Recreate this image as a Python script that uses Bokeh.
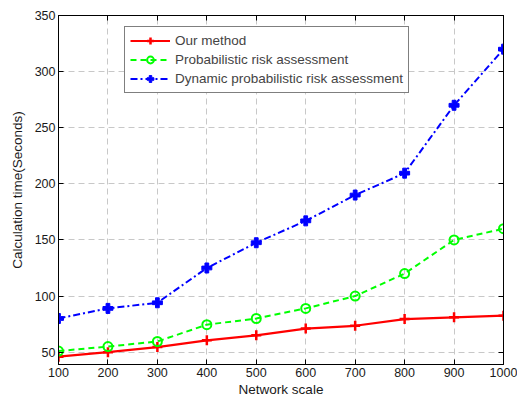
from bokeh.plotting import figure
from bokeh.models import LinearAxis, Range1d, Legend, LegendItem, FixedTicker
from bokeh.embed import file_html
from bokeh.resources import INLINE

network_scale = [100, 200, 300, 400, 500, 600, 700, 800, 900, 1000]
our_method = [46, 50, 54.5, 60.5, 65, 71, 73.5, 79.5, 81, 82.5]
probabilistic = [51, 55, 59.5, 74.5, 80, 89, 100, 120, 150, 160]
dynamic = [80, 89, 94, 125, 147.5, 167, 190, 209.5, 270, 320]
x_ticks = [100, 200, 300, 400, 500, 600, 700, 800, 900, 1000]
y_ticks = [50, 100, 150, 200, 250, 300, 350]

FONT = "Liberation Sans"

p = figure(width=517, height=399, output_backend="svg", toolbar_location=None,
           x_range=Range1d(100, 1000), y_range=Range1d(39, 350),
           min_border_left=58, min_border_right=14, min_border_top=15, min_border_bottom=33)

p.outline_line_color = "black"
p.outline_line_width = 1

for ax in [p.xaxis[0], p.yaxis[0]]:
    ax.major_tick_in = 5
    ax.major_tick_out = 0
    ax.minor_tick_in = 0
    ax.minor_tick_out = 0
    ax.major_label_text_font = FONT
    ax.major_label_text_font_size = "12.5px"
    ax.major_label_text_color = "#1a1a1a"
    ax.axis_label_text_font = FONT
    ax.axis_label_text_font_size = "13.5px"
    ax.axis_label_text_font_style = "normal"
    ax.axis_label_text_color = "#1a1a1a"
    ax.axis_line_color = "black"
    ax.major_tick_line_color = "black"
    ax.major_label_standoff = 3

p.xaxis[0].axis_label_standoff = 2
p.yaxis[0].axis_label_standoff = 7
p.xaxis[0].ticker = FixedTicker(ticks=x_ticks)
p.yaxis[0].ticker = FixedTicker(ticks=y_ticks)
p.xaxis[0].axis_label = "Network scale"
p.yaxis[0].axis_label = "Calculation time(Seconds)"

for loc in ["above", "right"]:
    ticks = x_ticks if loc == "above" else y_ticks
    ax = LinearAxis(ticker=FixedTicker(ticks=ticks))
    ax.major_label_overrides = {t: "" for t in ticks}
    ax.major_tick_in = 5
    ax.major_tick_out = 0
    ax.minor_tick_in = 0
    ax.minor_tick_out = 0
    ax.major_label_text_font_size = "1px"
    ax.major_label_standoff = 0
    ax.axis_line_color = "black"
    p.add_layout(ax, loc)

p.xgrid.ticker = FixedTicker(ticks=x_ticks)
p.ygrid.ticker = FixedTicker(ticks=y_ticks)
p.grid.grid_line_color = "#c8c8c8"
p.grid.grid_line_dash = "6 4"
p.grid.grid_line_width = 1

r1 = p.line(network_scale, our_method, line_color="#ff0000", line_width=2.2)
m1 = p.scatter(network_scale, our_method, marker="cross", size=10, line_color="#ff0000", line_width=2.5)
r2 = p.line(network_scale, probabilistic, line_color="#00ff00", line_width=2, line_dash="6 4")
m2 = p.scatter(network_scale, probabilistic, marker="circle", size=9, line_color="#00ff00",
               fill_color=None, line_width=2)
r3 = p.line(network_scale, dynamic, line_color="#0000ff", line_width=2, line_dash="7 3 2 3")
m3 = p.scatter(network_scale, dynamic, marker="plus", size=10, line_color="#0000ff",
               fill_color="#0000ff", line_width=1)

legend = Legend(items=[
    LegendItem(label="Our method", renderers=[r1, m1]),
    LegendItem(label="Probabilistic risk assessment", renderers=[r2, m2]),
    LegendItem(label="Dynamic probabilistic risk assessment", renderers=[r3, m3]),
], location=(66, 271))
legend.label_text_font = FONT
legend.label_text_font_size = "13.5px"
legend.glyph_width = 40
legend.label_height = 17
legend.glyph_height = 17
legend.spacing = 2
legend.padding = 5
legend.margin = 0
legend.label_standoff = 5
legend.border_line_color = "black"
legend.border_line_width = 1
legend.background_fill_alpha = 1
p.add_layout(legend, "center")

open("out.html", "w").write(file_html(p, INLINE))
